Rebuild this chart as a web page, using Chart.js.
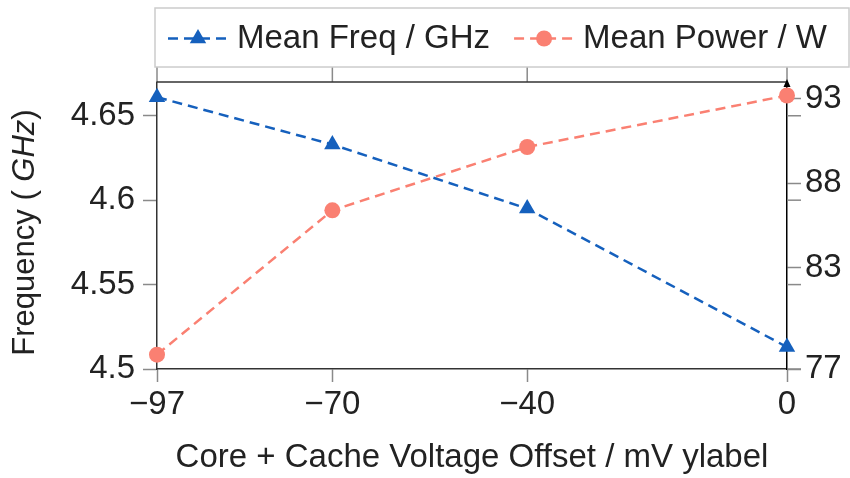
<!DOCTYPE html>
<html>
<head>
<meta charset="utf-8">
<title>Voltage offset vs frequency and power</title>
<script src="https://cdn.jsdelivr.net/npm/chart.js@4.4.1/dist/chart.umd.min.js"></script>
<style>
  html, body { margin: 0; padding: 0; background: #fff; }
  #wrap { width: 850px; height: 478px; }
</style>
</head>
<body>
<div id="wrap"><canvas id="voltChart" width="850" height="478"></canvas></div>
<script>
// data
const offsets = [-97, -70, -40, 0];
const meanFreq = [4.661, 4.633, 4.595, 4.513];
const meanPower = [77.85, 86.4, 90.15, 93.2];
const freqTicks = [4.5, 4.55, 4.6, 4.65];
const powerTicks = [77, 83, 88, 93];
const seriesNames = ['Mean Freq / GHz', 'Mean Power / W'];
const xTitle = 'Core + Cache Voltage Offset / mV ylabel';

const FONT = '"Liberation Sans", Arial, sans-serif';
const TEXT = '#222';
const BLUE = '#1560bd';
const SALMON = '#fa8072';
const TICK = '#8a8a8a';
const FRAME = '#333';

Chart.defaults.font.family = FONT;
Chart.defaults.color = TEXT;

const fmtMinus = v => v < 0 ? '\u2212' + Math.abs(v) : String(v);

function markerPath(ctx, style, x, y, r) {
    ctx.beginPath();
    if (style === 'triangle') {
        let rad = 0;
        for (let i = 0; i < 3; i++) {
            const px = x + Math.sin(rad) * r, py = y - Math.cos(rad) * r;
            if (i === 0) ctx.moveTo(px, py); else ctx.lineTo(px, py);
            rad += Math.PI * 2 / 3;
        }
        ctx.closePath();
    } else {
        ctx.arc(x, y, r, 0, Math.PI * 2);
    }
}

// frame, mirrored ticks, arrow head on the right axis
const framePlugin = {
    id: 'framePlugin',
    beforeDatasetsDraw(chart) {
        const {ctx, chartArea: a, scales} = chart;
        ctx.save();
        ctx.strokeStyle = TICK;
        ctx.lineWidth = 1.5;
        offsets.forEach(v => {
            const px = scales.x.getPixelForValue(v);
            ctx.beginPath(); ctx.moveTo(px, a.top - 15); ctx.lineTo(px, a.top); ctx.stroke();
        });
        freqTicks.forEach(v => {
            const py = scales.y.getPixelForValue(v);
            ctx.beginPath(); ctx.moveTo(a.right, py); ctx.lineTo(a.right + 14, py); ctx.stroke();
        });
        ctx.strokeStyle = FRAME;
        ctx.beginPath(); ctx.moveTo(a.left, a.top); ctx.lineTo(a.right, a.top); ctx.stroke();
        ctx.fillStyle = '#000';
        ctx.beginPath();
        ctx.moveTo(a.right, a.top - 3);
        ctx.lineTo(a.right - 3.5, a.top + 5);
        ctx.lineTo(a.right + 3.5, a.top + 5);
        ctx.closePath(); ctx.fill();
        ctx.restore();
    }
};

// y title with italic unit, and the boxed legend at the top
const textPlugin = {
    id: 'textPlugin',
    afterDraw(chart) {
        const {ctx, chartArea: a} = chart;
        ctx.save();
        ctx.fillStyle = TEXT;
        ctx.textBaseline = 'middle';
        const parts = [['Frequency ( ', ''], ['GHz', 'italic '], [')', '']];
        let total = 0;
        parts.forEach(p => { ctx.font = p[1] + '31px ' + FONT; total += ctx.measureText(p[0]).width; });
        ctx.translate(25, (a.top + a.bottom) / 2 + 7);
        ctx.rotate(-Math.PI / 2);
        let tx = -total / 2;
        parts.forEach(p => {
            ctx.font = p[1] + '31px ' + FONT;
            ctx.textAlign = 'left';
            ctx.fillText(p[0], tx, 0);
            tx += ctx.measureText(p[0]).width;
        });
        ctx.restore();

        ctx.save();
        const top = 8, bottom = 67, left = a.left - 2, right = 849;
        ctx.strokeStyle = '#cccccc';
        ctx.lineWidth = 1.5;
        ctx.strokeRect(left, top, right - left, bottom - top);
        const midY = (top + bottom) / 2 + 1;
        let x = left + 13;
        chart.data.datasets.forEach(ds => {
            ctx.strokeStyle = ds.borderColor;
            ctx.lineWidth = ds.borderWidth;
            ctx.setLineDash(ds.borderDash);
            ctx.beginPath(); ctx.moveTo(x, midY); ctx.lineTo(x + 60, midY); ctx.stroke();
            ctx.setLineDash([]);
            ctx.fillStyle = ds.pointBackgroundColor;
            markerPath(ctx, ds.pointStyle, x + 30, midY, ds.pointRadius);
            ctx.fill();
            ctx.fillStyle = TEXT;
            ctx.font = '33px ' + FONT;
            ctx.textAlign = 'left';
            ctx.textBaseline = 'middle';
            ctx.fillText(ds.label, x + 69, midY);
            x += 69 + ctx.measureText(ds.label).width + 24;
        });
        ctx.restore();
    }
};

new Chart(document.getElementById('voltChart'), {
    type: 'line',
    data: {
        datasets: [{
            label: seriesNames[0],
            data: offsets.map((v, i) => ({x: v, y: meanFreq[i]})),
            yAxisID: 'y',
            borderColor: BLUE,
            backgroundColor: BLUE,
            pointBackgroundColor: BLUE,
            pointBorderWidth: 0,
            borderWidth: 2.5,
            borderDash: [10, 6],
            pointStyle: 'triangle',
            pointRadius: 9.5,
            clip: false
        }, {
            label: seriesNames[1],
            data: offsets.map((v, i) => ({x: v, y: meanPower[i]})),
            yAxisID: 'y1',
            borderColor: SALMON,
            backgroundColor: SALMON,
            pointBackgroundColor: SALMON,
            pointBorderWidth: 0,
            borderWidth: 2.5,
            borderDash: [10, 6],
            pointStyle: 'circle',
            pointRadius: 8,
            clip: false
        }]
    },
    options: {
        responsive: false,
        animation: false,
        layout: {padding: {top: 82, left: 0, right: 0, bottom: 0}},
        plugins: {legend: {display: false}, tooltip: {enabled: false}},
        scales: {
            x: {
                type: 'linear',
                min: -97,
                max: 0,
                afterBuildTicks: axis => { axis.ticks = offsets.map(v => ({value: v})); },
                afterFit: axis => { axis.height = 109; },
                ticks: {
                    callback: v => fmtMinus(v),
                    font: {size: 33},
                    color: TEXT,
                    padding: 3,
                    maxRotation: 0
                },
                grid: {drawOnChartArea: false, drawTicks: true, tickLength: 13, tickColor: TICK, tickWidth: 1.5},
                border: {display: true, color: FRAME, width: 1.5},
                title: {display: true, text: xTitle, font: {size: 33}, color: TEXT, padding: {top: 0, bottom: 0}}
            },
            y: {
                position: 'left',
                min: 4.5,
                max: 4.67,
                afterBuildTicks: axis => { axis.ticks = freqTicks.map(v => ({value: v})); },
                afterFit: axis => { axis.width = 157; },
                ticks: {callback: v => String(v), font: {size: 33}, color: TEXT, padding: 8},
                grid: {drawOnChartArea: false, drawTicks: true, tickLength: 14, tickColor: TICK, tickWidth: 1.5},
                border: {display: true, color: FRAME, width: 1.5}
            },
            y1: {
                position: 'right',
                min: 77,
                max: 94,
                afterBuildTicks: axis => { axis.ticks = powerTicks.map(v => ({value: v})); },
                afterFit: axis => { axis.width = 63; },
                ticks: {callback: v => String(v), font: {size: 33}, color: TEXT, padding: 4},
                grid: {drawOnChartArea: false, drawTicks: true, tickLength: 14, tickColor: TICK, tickWidth: 1.5},
                border: {display: true, color: '#000', width: 1.5}
            }
        }
    },
    plugins: [framePlugin, textPlugin]
});
</script>
</body>
</html>
